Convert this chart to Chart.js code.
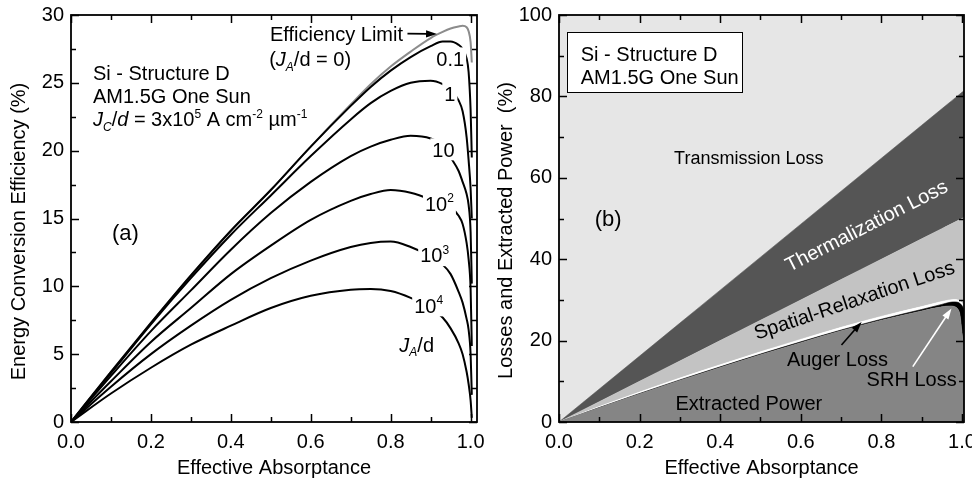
<!DOCTYPE html>
<html>
<head>
<meta charset="utf-8">
<script src="https://cdn.jsdelivr.net/npm/chart.js@4.4.1/dist/chart.umd.min.js"></script>
<style>
  html, body { margin: 0; padding: 0; background: #fff; }
  #wrap { position: relative; width: 972px; height: 481px; }
  canvas { position: absolute; top: 0; }
  #effChart { left: 0; }
  #lossChart { left: 486px; }
</style>
</head>
<body>
<div id="wrap">
  <canvas id="effChart" width="486" height="481"></canvas>
  <canvas id="lossChart" width="486" height="481"></canvas>
</div>
<script>
const FONT = "'Liberation Sans', Arial, sans-serif";

// (a) efficiency vs effective absorptance, one curve per J_A/d
const absorptance = [0, 0.1, 0.2, 0.3, 0.4, 0.5, 0.6, 0.7, 0.75, 0.8, 0.85, 0.9, 0.93, 0.95, 0.97, 0.98, 0.99, 0.995, 1.0, 1.003];
const effLimit = [0, 3.7, 7.3, 10.8, 14.1, 17.1, 20.3, 23.4, 24.9, 26.2, 27.3, 28.3, 28.75, 29.0, 29.15, 29.2, 29.1, 28.8, 28.0, 26.5];
const eff0p1   = [0, 3.7, 7.3, 10.8, 14.1, 17.1, 20.3, 23.3, 24.7, 25.9, 26.9, 27.7, 28.05, 28.05, 27.8, 27.5, 26.8, 25.8, 23.0, 19.5];
const eff1     = [0, 3.6, 7.2, 10.6, 13.8, 16.7, 19.6, 22.3, 23.5, 24.4, 25.0, 25.15, 24.9, 24.5, 23.7, 22.9, 21.0, 19.3, 17.2, 15.0];
const eff10    = [0, 3.4, 6.7, 9.7, 12.7, 15.4, 17.7, 19.6, 20.3, 20.8, 21.1, 20.9, 20.4, 19.5, 18.5, 17.7, 16.8, 16.0, 14.0, 10.2];
const eff1e2   = [0, 3.0, 5.9, 8.4, 10.9, 13.0, 14.9, 16.3, 16.8, 17.1, 16.9, 16.4, 16.0, 15.8, 15.2, 14.6, 13.2, 12.0, 9.8, 5.6];
const eff1e3   = [0, 2.6, 5.0, 7.1, 9.0, 10.6, 11.9, 12.9, 13.2, 13.3, 12.9, 12.2, 11.6, 10.9, 9.6, 8.8, 7.6, 6.8, 5.0, 2.0];
const eff1e4   = [0, 2.1, 4.0, 5.7, 7.1, 8.4, 9.3, 9.75, 9.8, 9.65, 9.15, 8.4, 7.7, 6.9, 5.8, 5.0, 3.7, 2.8, 1.6, 0.3];

// (b) stacked power balance (percent of incident power)
const stackA       = [0, 0.1, 0.2, 0.3, 0.4, 0.5, 0.6, 0.7, 0.8, 0.9, 0.95, 0.97, 0.98, 0.99, 0.995, 1.0, 1.005];
const extracted    = [0, 3.5, 6.9, 10.2, 13.4, 16.5, 19.5, 22.4, 25.0, 27.3, 28.3, 28.5, 28.4, 27.7, 26.3, 22.0, 18.0];
const srhLoss      = [0, 0.05, 0.1, 0.15, 0.15, 0.2, 0.2, 0.2, 0.25, 0.35, 0.6, 0.9, 1.1, 1.7, 2.8, 6.6, 9.5];
const augerLoss    = [0, 0.25, 0.35, 0.45, 0.5, 0.55, 0.6, 0.65, 0.7, 0.7, 0.7, 0.6, 0.6, 0.6, 0.6, 0.6, 0.7];
const spatialLoss  = [0, 1.2, 2.65, 4.2, 5.95, 7.75, 9.7, 11.75, 14.05, 16.65, 17.9, 18.5, 18.9, 19.5, 20.05, 20.8, 22.05];
const thermLoss    = [0, 3.1, 6.2, 9.3, 12.4, 15.5, 18.6, 21.7, 24.8, 27.9, 29.45, 30.07, 30.38, 30.69, 30.85, 31.0, 31.16];
const transLoss    = [100, 91.9, 83.8, 75.7, 67.6, 59.5, 51.4, 43.3, 35.2, 27.1, 23.05, 21.43, 20.62, 19.81, 19.41, 19.0, 18.6];

const pts = (xs, ys) => xs.map((x, i) => ({ x, y: ys[i] }));

// ---- text helpers: runs are [text, flags], flags: i = italic, b = subscript, p = superscript
function runFont(flags, size) {
  const small = flags.includes('b') || flags.includes('p');
  return (flags.includes('i') ? 'italic ' : '') + (small ? Math.round(size * 0.62) : size) + 'px ' + FONT;
}
function runsWidth(ctx, runs, size) {
  let w = 0;
  for (const [t, f] of runs) { ctx.font = runFont(f, size); w += ctx.measureText(t).width; }
  return w;
}
function drawRuns(ctx, runs, x, y, size) {
  let cx = x;
  const base = y + size * 0.36;
  ctx.textAlign = 'left';
  ctx.textBaseline = 'alphabetic';
  for (const [t, f] of runs) {
    ctx.font = runFont(f, size);
    let by = base;
    if (f.includes('p')) by -= size * 0.42;
    if (f.includes('b')) by += size * 0.22;
    ctx.fillText(t, cx, by);
    cx += ctx.measureText(t).width;
  }
}
function arrow(ctx, x0, y0, x1, y1, color) {
  const a = Math.atan2(y1 - y0, x1 - x0), head = 11, half = 3.6;
  const c = Math.cos(a), s = Math.sin(a);
  ctx.strokeStyle = color; ctx.fillStyle = color; ctx.lineWidth = 1.6;
  ctx.beginPath(); ctx.moveTo(x0, y0); ctx.lineTo(x1 - head * 0.8 * c, y1 - head * 0.8 * s); ctx.stroke();
  ctx.beginPath();
  ctx.moveTo(x1, y1);
  ctx.lineTo(x1 - head * c + half * s, y1 - head * s - half * c);
  ctx.lineTo(x1 - head * c - half * s, y1 - head * s + half * c);
  ctx.closePath(); ctx.fill();
}

// annotations placed in data units, plus the rotated y title
const notes = {
  id: 'notes',
  afterDatasetsDraw(chart, args, opts) {
    const { ctx, chartArea: ca, scales: { x, y } } = chart;
    ctx.save();
    if (opts.box) {
      const b = opts.box;
      const l = Math.round(x.getPixelForValue(b[0])), t = Math.round(y.getPixelForValue(b[1]));
      const r = Math.round(x.getPixelForValue(b[2])), btm = Math.round(y.getPixelForValue(b[3]));
      ctx.fillStyle = '#fff'; ctx.fillRect(l, t, r - l, btm - t);
      ctx.strokeStyle = '#000'; ctx.lineWidth = 1; ctx.strokeRect(l + 0.5, t + 0.5, r - l, btm - t);
    }
    for (const n of opts.items) {
      const size = n.size || 20;
      ctx.save();
      ctx.translate(x.getPixelForValue(n.at[0]), y.getPixelForValue(n.at[1]));
      if (n.rotate) ctx.rotate(n.rotate * Math.PI / 180);
      const w = runsWidth(ctx, n.runs, size);
      const left = n.align === 'left' ? 0 : -w / 2;
      if (n.bg) { ctx.fillStyle = n.bg; ctx.fillRect(left - 2, -size * 0.55, w + 4, size * 1.1); }
      ctx.fillStyle = n.color || '#000';
      drawRuns(ctx, n.runs, left, 0, size);
      ctx.restore();
    }
    for (const a of opts.arrows || []) {
      arrow(ctx, x.getPixelForValue(a.from[0]), y.getPixelForValue(a.from[1]),
                 x.getPixelForValue(a.to[0]), y.getPixelForValue(a.to[1]), a.color);
    }
    if (opts.yTitle) {
      ctx.save();
      ctx.translate(opts.yTitle.x, (ca.top + ca.bottom) / 2 + opts.yTitle.shift);
      ctx.rotate(-Math.PI / 2);
      ctx.fillStyle = '#000';
      ctx.font = '20px ' + FONT;
      ctx.textAlign = 'center';
      ctx.textBaseline = 'middle';
      ctx.fillText(opts.yTitle.text, 0, 0);
      ctx.restore();
    }
    ctx.restore();
  }
};

// closed frame with inward major/minor ticks on all four sides
const frameTicks = {
  id: 'frameTicks',
  afterDraw(chart, args, opts) {
    const { ctx, chartArea: ca, scales: { x, y } } = chart;
    ctx.save();
    ctx.strokeStyle = '#000';
    ctx.lineWidth = 1.5;
    ctx.beginPath();
    for (let k = 0; ; k++) {
      const v = x.min + k * opts.xMinor;
      if (v > x.max + 1e-9) break;
      const major = Math.abs(v / opts.xMajor - Math.round(v / opts.xMajor)) < 1e-6;
      const len = major ? 8 : 5, px = Math.round(x.getPixelForValue(v)) + 0.5;
      ctx.moveTo(px, ca.bottom); ctx.lineTo(px, ca.bottom - len);
      ctx.moveTo(px, ca.top); ctx.lineTo(px, ca.top + len);
    }
    for (let k = 0; ; k++) {
      const v = y.min + k * opts.yMinor;
      if (v > y.max + 1e-9) break;
      const major = Math.abs(v / opts.yMajor - Math.round(v / opts.yMajor)) < 1e-6;
      const len = major ? 8 : 5, py = Math.round(y.getPixelForValue(v)) + 0.5;
      ctx.moveTo(ca.left, py); ctx.lineTo(ca.left + len, py);
      ctx.moveTo(ca.right, py); ctx.lineTo(ca.right - len, py);
    }
    ctx.stroke();
    ctx.lineWidth = 1.8;
    ctx.strokeRect(ca.left, ca.top, ca.right - ca.left, ca.bottom - ca.top);
    ctx.restore();
  }
};

Chart.defaults.font.family = FONT;
Chart.defaults.font.size = 20;
Chart.defaults.color = '#000';

function axes(xMax, yMax, yStep, yAxisWidth) {
  return {
    x: {
      type: 'linear', min: 0, max: xMax,
      afterFit: s => { s.height = 59; s.paddingLeft = 0; s.paddingRight = 0; },
      grid: { display: false, drawTicks: false },
      border: { display: false },
      ticks: { stepSize: 0.2, includeBounds: false, autoSkip: false, maxRotation: 0, padding: 8,
               callback: v => v.toFixed(1) },
      title: { display: true, text: 'Effective Absorptance', padding: { top: 0, bottom: 1 } }
    },
    y: {
      min: 0, max: yMax,
      afterFit: s => { s.width = yAxisWidth; s.paddingTop = 0; s.paddingBottom = 0; },
      grid: { display: false, drawTicks: false },
      border: { display: false },
      ticks: { stepSize: yStep, padding: 7 }
    }
  };
}

const curve = (data, color, label) => ({
  label, data: pts(absorptance, data), borderColor: color, borderWidth: 2,
  pointRadius: 0, fill: false, cubicInterpolationMode: 'monotone'
});

new Chart(document.getElementById('effChart'), {
  type: 'line',
  data: {
    datasets: [
      curve(eff0p1, '#000', '0.1'),
      curve(eff1, '#000', '1'),
      curve(eff10, '#000', '10'),
      curve(eff1e2, '#000', '1e2'),
      curve(eff1e3, '#000', '1e3'),
      curve(eff1e4, '#000', '1e4'),
      curve(effLimit, '#8c8c8c', 'limit')
    ]
  },
  plugins: [notes, frameTicks],
  options: {
    responsive: false, animation: false, devicePixelRatio: 1,
    layout: { padding: { top: 15, right: 9, left: 0, bottom: 0 } },
    scales: axes(1.016, 30, 5, 71),
    plugins: {
      legend: { display: false }, tooltip: { enabled: false },
      frameTicks: { xMajor: 0.2, xMinor: 0.1, yMajor: 5, yMinor: 2.5 },
      notes: {
        yTitle: { text: 'Energy Conversion Efficiency (%)', x: 19, shift: 13 },
        items: [
          { at: [0.055, 25.76], align: 'left', runs: [['Si - Structure D', '']] },
          { at: [0.055, 24.02], align: 'left', runs: [['AM1.5G One Sun', '']] },
          { at: [0.055, 22.33], align: 'left', runs: [['J', 'i'], ['C', 'ib'], ['/', ''], ['d', 'i'], [' = 3x10', ''], ['5', 'p'],
                                                      [' A cm', ''], ['-2', 'p'], [' \u00b5m', ''], ['-1', 'p']] },
          { at: [0.136, 14.0], runs: [['(a)', '']], size: 22 },
          { at: [0.498, 28.63], align: 'left', runs: [['Efficiency Limit', '']] },
          { at: [0.496, 26.75], align: 'left', runs: [['(', ''], ['J', 'i'], ['A', 'ib'], ['/d = 0)', '']] },
          { at: [0.949, 26.8], bg: '#fff', runs: [['0.1', '']] },
          { at: [0.948, 24.2], bg: '#fff', runs: [['1', '']] },
          { at: [0.932, 20.1], bg: '#fff', runs: [['10', '']] },
          { at: [0.922, 16.1], bg: '#fff', runs: [['10', ''], ['2', 'p']] },
          { at: [0.91, 12.3], bg: '#fff', runs: [['10', ''], ['3', 'p']] },
          { at: [0.895, 8.6], bg: '#fff', runs: [['10', ''], ['4', 'p']] },
          { at: [0.865, 5.7], runs: [['J', 'i'], ['A', 'ib'], ['/d', '']] }
        ],
        arrows: [ { from: [0.842, 28.63], to: [0.916, 28.6], color: '#000' } ]
      }
    }
  }
});

const band = (data, color, fill, label) => ({
  label, data: pts(stackA, data), backgroundColor: color, borderColor: color, borderWidth: 0.6,
  pointRadius: 0, fill, cubicInterpolationMode: 'monotone'
});

const lossScales = axes(1.005, 100, 20, 73);
lossScales.y.stacked = true;

new Chart(document.getElementById('lossChart'), {
  type: 'line',
  data: {
    datasets: [
      band(extracted, '#858585', 'origin', 'Extracted Power'),
      band(srhLoss, '#000000', '-1', 'SRH Loss'),
      band(augerLoss, '#ffffff', '-1', 'Auger Loss'),
      band(spatialLoss, '#c3c3c3', '-1', 'Spatial-Relaxation Loss'),
      band(thermLoss, '#555555', '-1', 'Thermalization Loss'),
      band(transLoss, '#e6e6e6', '-1', 'Transmission Loss')
    ]
  },
  plugins: [notes, frameTicks],
  options: {
    responsive: false, animation: false, devicePixelRatio: 1,
    layout: { padding: { top: 15, right: 8, left: 0, bottom: 0 } },
    scales: lossScales,
    plugins: {
      legend: { display: false }, tooltip: { enabled: false },
      frameTicks: { xMajor: 0.2, xMinor: 0.1, yMajor: 20, yMinor: 10 },
      notes: {
        yTitle: { text: 'Losses and Extracted Power  (%)', x: 20, shift: 12 },
        box: [0.019, 95.9, 0.455, 81.2],
        items: [
          { at: [0.054, 90.4], align: 'left', runs: [['Si - Structure D', '']] },
          { at: [0.054, 84.8], align: 'left', runs: [['AM1.5G One Sun', '']] },
          { at: [0.471, 64.9], runs: [['Transmission Loss', '']], size: 18 },
          { at: [0.122, 50.1], runs: [['(b)', '']], size: 22 },
          { at: [0.762, 48.4], rotate: -27, color: '#fff', runs: [['Thermalization Loss', '']] },
          { at: [0.732, 30.1], rotate: -18.6, runs: [['Spatial-Relaxation Loss', '']] },
          { at: [0.691, 15.5], runs: [['Auger Loss', '']] },
          { at: [0.875, 10.7], runs: [['SRH Loss', '']] },
          { at: [0.471, 4.6], runs: [['Extracted Power', '']] }
        ],
        arrows: [
          { from: [0.701, 18.9], to: [0.751, 24.6], color: '#000' },
          { from: [0.878, 13.6], to: [0.974, 27.9], color: '#fff' }
        ]
      }
    }
  }
});
</script>
</body>
</html>
